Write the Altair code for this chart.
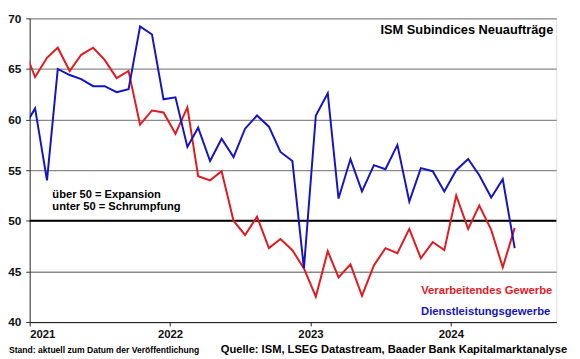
import altair as alt
import pandas as pd

# Monthly observations, Dec 2020 (clipped at the left edge) .. Jun 2024
months = [f"{y}-{m:02d}-15" for y in range(2020, 2025) for m in range(1, 13)][11:54]

verarbeitend = [
    67.2,
    64.2, 66.1, 67.1, 64.8, 66.4, 67.1, 65.9, 64.1, 64.8, 59.5, 60.9, 60.7,
    58.6, 61.2, 54.4, 54.0, 54.9, 50.0, 48.6, 50.4, 47.3, 48.2, 47.1, 45.3,
    42.5, 47.0, 44.4, 45.7, 42.6, 45.6, 47.3, 46.8, 49.2, 46.3, 47.9, 47.1,
    52.5, 49.2, 51.5, 49.1, 45.4, 49.3,
]
dienstleistung = [
    59.1,
    61.1, 54.0, 65.0, 64.4, 64.0, 63.3, 63.3, 62.7, 63.0, 69.2, 68.4, 62.0,
    62.2, 57.3, 59.2, 55.9, 58.1, 56.3, 59.1, 60.4, 59.3, 56.8, 55.9, 45.3,
    60.4, 62.6, 52.2, 56.1, 52.9, 55.5, 55.1, 57.5, 51.9, 55.2, 54.9, 52.9,
    55.0, 56.1, 54.5, 52.3, 54.1, 47.3,
]
series_names = ["Verarbeitendes Gewerbe", "Dienstleistungsgewerbe"]
series_colors = ["#e3191f", "#1414c4"]
year_ticks = [2021, 2022, 2023, 2024]
y_ticks = [40, 45, 50, 55, 60, 65, 70]

df = pd.DataFrame({
    "date": months * 2,
    "value": verarbeitend + dienstleistung,
    "series": [series_names[0]] * len(months) + [series_names[1]] * len(months),
    "order": [0] * len(months) + [1] * len(months),
})

FONT = "Liberation Sans"

x = alt.X(
    "date:T",
    scale=alt.Scale(
        type="utc",
        domain=[alt.DateTime(year=2021, month=1, date=1, utc=True),
                alt.DateTime(year=2024, month=10, date=1, utc=True)],
    ),
    axis=alt.Axis(
        values=[alt.DateTime(year=yy, month=1, date=1, utc=True) for yy in year_ticks],
        format="%Y", formatType="utc", title=None, grid=False,
        domainColor="#222", tickColor="#222", tickSize=4,
        labelFontSize=11.5, labelFontWeight="bold", labelPadding=3,
        labelColor="#111",
    ),
)
y = alt.Y(
    "value:Q",
    scale=alt.Scale(domain=[40, 70], nice=False, zero=False),
    axis=alt.Axis(
        values=y_ticks, title=None, grid=True, gridColor="#8a8a8a", gridWidth=1.3,
        domainColor="#333", tickColor="#333", tickSize=4,
        labelFontSize=12, labelFontWeight="bold", labelPadding=5,
        labelColor="#111",
    ),
)

lines = alt.Chart(df).mark_line(strokeWidth=2, clip=True).encode(
    x=x, y=y,
    color=alt.Color("series:N", scale=alt.Scale(domain=series_names, range=series_colors), legend=None),
    detail="series:N",
    order="order:Q",
)

rule50 = alt.Chart(pd.DataFrame({"v": [50]})).mark_rule(color="black", strokeWidth=2).encode(y="v:Q")


def label(text, px, py, size, color="black", align="left"):
    return alt.Chart(pd.DataFrame({"t": [text]})).mark_text(
        font=FONT, fontSize=size, fontWeight="bold", color=color, align=align, baseline="middle"
    ).encode(text="t:N", x=alt.value(px), y=alt.value(py))


texts = [
    label("ISM Subindices Neuaufträge", 531, 12, 13, align="right"),
    label("über 50 = Expansion", 23, 179, 11.3),
    label("unter 50 = Schrumpfung", 23, 191, 11.3),
    label(series_names[0], 530, 277, 11.4, color=series_colors[0], align="right"),
    label(series_names[1], 528, 298, 11.4, color=series_colors[1], align="right"),
    label("Stand: aktuell zum Datum der Veröffentlichung", -21, 336, 8.7),
    label("Quelle: ISM, LSEG Datastream, Baader Bank Kapitalmarktanalyse", 545, 336, 11.3, align="right"),
]

chart = alt.layer(rule50, lines, *texts).properties(
    width=534, height=308,
    autosize=alt.AutoSizeParams(type="none"),
    padding={"left": 22, "top": 8, "right": 16, "bottom": 35},
).configure_view(
    stroke="#8a8a8a", strokeWidth=1.3
).configure_axis(
    labelFont=FONT
).configure(background="white")

chart.save("out.html", embed_options={"renderer": "svg", "actions": False})
